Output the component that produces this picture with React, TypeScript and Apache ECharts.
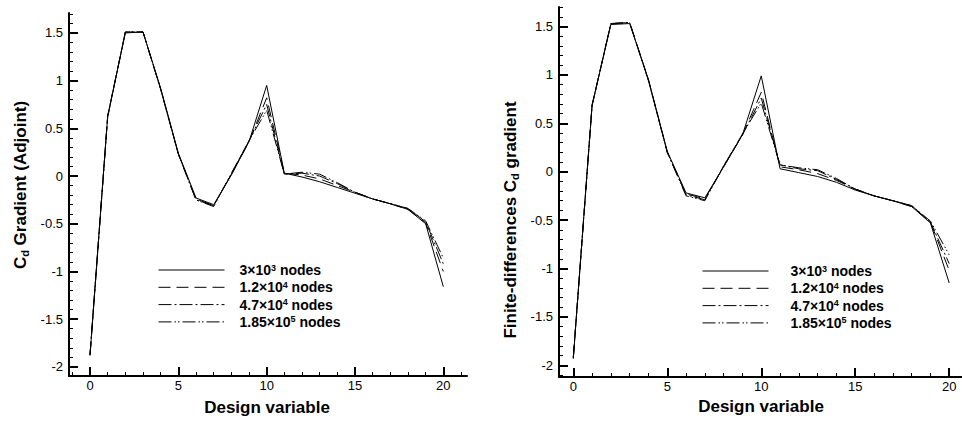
import React, { useEffect, useRef } from "react";
import * as echarts from "echarts";

// Design variable index (x)
const designVars = [0, 1, 2, 3, 4, 5, 6, 7, 8, 9, 10, 11, 12, 13, 14, 15, 16, 17, 18, 19, 20];

// Adjoint Cd gradient, one array per mesh
const adj3e3 = [-1.88, 0.63, 1.50, 1.51, 0.92, 0.24, -0.23, -0.30, 0.01, 0.36, 0.95, 0.03, -0.01, -0.06, -0.12, -0.18, -0.24, -0.29, -0.35, -0.50, -1.16];
const adj12e4 = [-1.88, 0.63, 1.51, 1.51, 0.91, 0.23, -0.24, -0.31, 0.02, 0.36, 0.82, 0.03, 0.01, -0.03, -0.10, -0.17, -0.24, -0.29, -0.35, -0.49, -1.00];
const adj47e4 = [-1.87, 0.62, 1.51, 1.51, 0.91, 0.23, -0.25, -0.31, 0.02, 0.37, 0.75, 0.02, 0.03, 0.00, -0.08, -0.17, -0.24, -0.29, -0.34, -0.48, -0.92];
const adj185e5 = [-1.87, 0.62, 1.51, 1.51, 0.91, 0.23, -0.25, -0.32, 0.03, 0.37, 0.69, 0.02, 0.04, 0.02, -0.07, -0.17, -0.24, -0.29, -0.34, -0.47, -0.86];

// Finite-difference Cd gradient, one array per mesh
const fd3e3 = [-1.93, 0.69, 1.52, 1.53, 0.95, 0.21, -0.22, -0.27, 0.05, 0.38, 0.99, 0.03, -0.01, -0.05, -0.11, -0.19, -0.25, -0.30, -0.36, -0.53, -1.15];
const fd12e4 = [-1.93, 0.69, 1.53, 1.54, 0.95, 0.20, -0.23, -0.28, 0.05, 0.38, 0.82, 0.05, 0.02, -0.02, -0.09, -0.18, -0.25, -0.30, -0.36, -0.52, -1.02];
const fd47e4 = [-1.92, 0.68, 1.53, 1.54, 0.94, 0.20, -0.24, -0.29, 0.06, 0.38, 0.76, 0.07, 0.03, 0.01, -0.08, -0.18, -0.25, -0.30, -0.35, -0.52, -0.95];
const fd185e5 = [-1.92, 0.68, 1.53, 1.54, 0.94, 0.20, -0.25, -0.30, 0.06, 0.39, 0.71, 0.07, 0.04, 0.02, -0.07, -0.18, -0.25, -0.30, -0.35, -0.51, -0.86];

// Legend entries: mantissa, exponent
const meshNames = ["3\u00d710^3", "1.2\u00d710^4", "4.7\u00d710^4", "1.85\u00d710^5"];

// Axis ticks
const xMajorTicks = [0, 5, 10, 15, 20];
const xMinorTicks = [-1, 0, 1, 2, 3, 4, 5, 6, 7, 8, 9, 10, 11, 12, 13, 14, 15, 16, 17, 18, 19, 20, 21];
const yMajorTicks = [-2, -1.5, -1, -0.5, 0, 0.5, 1, 1.5];
const yMinorTicks = [-2.1, -2, -1.9, -1.8, -1.7, -1.6, -1.5, -1.4, -1.3, -1.2, -1.1, -1, -0.9, -0.8, -0.7, -0.6, -0.5, -0.4, -0.3, -0.2, -0.1, 0, 0.1, 0.2, 0.3, 0.4, 0.5, 0.6, 0.7, 0.8, 0.9, 1, 1.1, 1.2, 1.3, 1.4, 1.5, 1.6, 1.7];

const FONT = "'Liberation Sans', Arial, sans-serif";
const lineDashes: (number[] | "solid")[] = ["solid", [12, 6], [13, 3, 2, 3], [13, 3, 1.5, 2, 1.5, 3]];

export default function App() {
  const ref = useRef<HTMLDivElement>(null);

  useEffect(() => {
    if (!ref.current) return;
    const chart = echarts.init(ref.current, null, { renderer: "svg" });

    const pairs = (ys: number[]) => designVars.map((x, i) => [x, ys[i]]);
    const legendLabel = (name: string) => {
      const [m, e] = name.split("^");
      return `{g| }{b|${m}}{sup|${e}}{b| nodes}`;
    };

    const axisLine = { show: true, onZero: false, lineStyle: { color: "#000", width: 2 } };
    const noLine = { show: false, onZero: false };
    const xAxes = (gridIndex: number, min: number, max: number) => [
      {
        type: "value", gridIndex, min, max, position: "bottom",
        axisLine,
        splitLine: { show: false },
        axisTick: { inside: true, length: 9, customValues: xMajorTicks, lineStyle: { color: "#000", width: 2 } },
        axisLabel: { customValues: xMajorTicks, margin: 3, color: "#000", fontSize: 13, fontFamily: FONT },
      },
      {
        type: "value", gridIndex, min, max, position: "bottom",
        axisLine: noLine,
        splitLine: { show: false },
        axisTick: { inside: true, length: 4, customValues: xMinorTicks, lineStyle: { color: "#000", width: 1 } },
        axisLabel: { show: false },
      },
    ];
    const yAxes = (gridIndex: number, min: number, max: number) => [
      {
        type: "value", gridIndex, min, max, position: "left",
        axisLine,
        splitLine: { show: false },
        axisTick: { inside: true, length: 9, customValues: yMajorTicks, lineStyle: { color: "#000", width: 2 } },
        axisLabel: { customValues: yMajorTicks, margin: 6, color: "#000", fontSize: 13, fontFamily: FONT },
      },
      {
        type: "value", gridIndex, min, max, position: "left",
        axisLine: noLine,
        splitLine: { show: false },
        axisTick: { inside: true, length: 4, customValues: yMinorTicks, lineStyle: { color: "#000", width: 1 } },
        axisLabel: { show: false },
      },
    ];

    const mkSeries = (sets: number[][], axisIndex: number) =>
      sets.map((ys, k) => ({
        type: "line",
        name: meshNames[k],
        xAxisIndex: axisIndex,
        yAxisIndex: axisIndex,
        data: pairs(ys),
        symbol: "none",
        z: 10 - k,
        itemStyle: { color: "#000" },
        lineStyle: { color: "#000", width: 1, type: lineDashes[k] },
      }));

    const richLegend = (gap: number) => ({
      g: { width: gap, fontSize: 14, lineHeight: 14 },
      b: { fontFamily: FONT, fontSize: 14, fontWeight: "bold", color: "#000", lineHeight: 14, verticalAlign: "middle" },
      sup: { fontFamily: FONT, fontSize: 9, fontWeight: "bold", color: "#000", lineHeight: 8, verticalAlign: "top" },
    });

    const legendCommon = {
      orient: "vertical",
      itemWidth: 66,
      itemHeight: 14,
      itemGap: 3.3,
      formatter: legendLabel,
      selectedMode: false,
      data: meshNames,
      itemStyle: { opacity: 0 },
      lineStyle: { width: 1, color: "#000" },
    };
    const legendText = (gap: number) => ({
      color: "#000",
      fontFamily: FONT,
      fontSize: 14,
      fontWeight: "bold",
      rich: richLegend(gap),
    });

    const titleRich = {
      b: { fontFamily: FONT, fontSize: 17, fontWeight: "bold", fill: "#000", lineHeight: 20, verticalAlign: "middle" },
      s: { fontFamily: FONT, fontSize: 11, fontWeight: "bold", fill: "#000", lineHeight: 10, verticalAlign: "bottom" },
    };

    chart.setOption({
      animation: false,
      backgroundColor: "#fff",
      grid: [
        { left: 69, top: 13, width: 398, height: 363, containLabel: false },
        { left: 559, top: 7, width: 403, height: 370, containLabel: false },
      ],
      xAxis: [...xAxes(0, -1.19, 21.34), ...xAxes(1, -0.76, 20.68)],
      yAxis: [...yAxes(0, -2.096, 1.709), ...yAxes(1, -2.121, 1.701)],
      legend: [
        { ...legendCommon, left: 153, top: 258, textStyle: legendText(10) },
        { ...legendCommon, left: 697, top: 259, textStyle: legendText(17) },
      ],
      series: [
        ...mkSeries([adj3e3, adj12e4, adj47e4, adj185e5], 0),
        ...mkSeries([fd3e3, fd12e4, fd47e4, fd185e5], 2),
      ],
      graphic: [
        {
          type: "text", x: 20, y: 185, rotation: Math.PI / 2,
          style: { text: "{b|C}{s|d}{b| Gradient (Adjoint)}", rich: titleRich, align: "center", verticalAlign: "middle" },
        },
        {
          type: "text", x: 510, y: 220, rotation: Math.PI / 2,
          style: { text: "{b|Finite-differences C}{s|d}{b| gradient}", rich: titleRich, align: "center", verticalAlign: "middle" },
        },
        {
          type: "text", x: 267, y: 407,
          style: { text: "Design variable", fontFamily: FONT, fontSize: 17, fontWeight: "bold", fill: "#000", align: "center", verticalAlign: "middle" },
        },
        {
          type: "text", x: 761, y: 406,
          style: { text: "Design variable", fontFamily: FONT, fontSize: 17, fontWeight: "bold", fill: "#000", align: "center", verticalAlign: "middle" },
        },
      ],
    });

    return () => chart.dispose();
  }, []);

  return (
    <div
      ref={ref}
      style={{ position: "fixed", left: 0, top: 0, width: 962, height: 421, background: "#fff" }}
    />
  );
}
